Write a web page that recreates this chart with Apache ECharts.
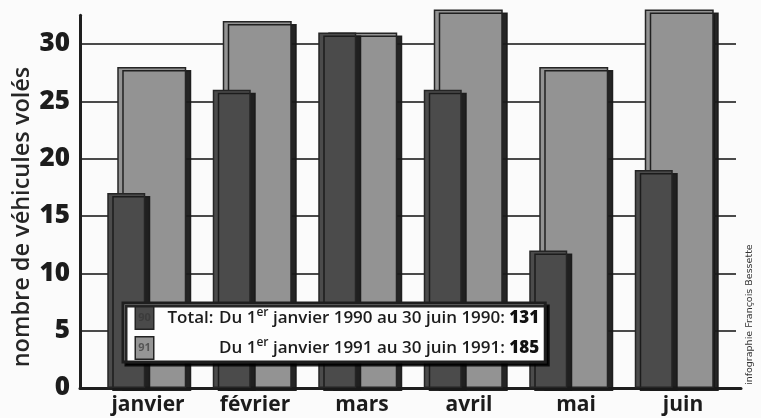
<!DOCTYPE html>
<html>
<head>
<meta charset="utf-8">
<script src="https://cdn.jsdelivr.net/npm/echarts@6/dist/echarts.min.js"></script>
<style>html,body{margin:0;padding:0;background:#fbfbfb;}#c{width:761px;height:418px;}</style>
</head>
<body>
<div id="c"></div>
<script>
var categories = ['janvier', 'février', 'mars', 'avril', 'mai', 'juin'];
var v1990 = [17, 26, 31, 26, 12, 19];
var v1991 = [28, 32, 31, 33, 28, 33];
var yTicks = [0, 5, 10, 15, 20, 25, 30];
var total1990 = 131;
var total1991 = 185;
var yName = 'nombre de véhicules volés';
var credit = 'infographie François Bessette';

var chart = echarts.init(document.getElementById('c'));
var FONT = '"Open Sans", "DejaVu Sans", sans-serif';
var YMAX = 32.5;
var TOP = 15.3, BOTTOM = 30;

var option = {
  backgroundColor: '#fbfbfb',
  animation: false,
  textStyle: { fontFamily: FONT },
  grid: [
    { left: 80, right: 25, top: TOP, bottom: BOTTOM, outerBoundsMode: 'none' },
    { left: 80, right: 20, top: 46, bottom: BOTTOM, outerBoundsMode: 'none' },
    { left: 94, right: 34, top: TOP, bottom: BOTTOM, outerBoundsMode: 'none' },
    { left: 94.5, right: 24.5, top: TOP, bottom: BOTTOM, outerBoundsMode: 'none' }
  ],
  xAxis: [
    { gridIndex: 0, type: 'value', min: 0, max: 1, show: false },
    { gridIndex: 1, type: 'value', min: 0, max: 1,
      axisLine: { show: true, lineStyle: { color: '#1e1e1e', width: 3 } },
      axisTick: { show: false }, axisLabel: { show: false }, splitLine: { show: false } },
    { gridIndex: 2, type: 'category', data: categories, show: false },
    { gridIndex: 3, type: 'category', data: categories,
      axisLine: { show: false }, axisTick: { show: false }, splitLine: { show: false },
      axisLabel: { margin: 7, color: '#1c1c1c', fontSize: 21, fontWeight: 700, fontFamily: FONT } }
  ],
  yAxis: [
    { gridIndex: 0, type: 'value', min: 0, max: YMAX, position: 'left',
      axisLine: { show: true, lineStyle: { color: '#1e1e1e', width: 3 } },
      axisTick: { show: false },
      axisLabel: { customValues: yTicks, margin: 10, color: '#1c1c1c', fontSize: 26, fontWeight: 800, fontFamily: FONT },
      splitLine: { show: true, showMaxLine: false, showMinLine: false, lineStyle: { color: '#4a4a4a', width: 2 } }
    },
    { gridIndex: 0, type: 'value', min: 0, max: YMAX, position: 'right', offset: -23,
      axisLine: { show: true, lineStyle: { color: '#1e1e1e', width: 3 } },
      axisTick: { show: true, customValues: yTicks.slice(1), length: 22, inside: false, lineStyle: { color: '#4a4a4a', width: 2 } },
      axisLabel: { show: false }, splitLine: { show: false }
    },
    { gridIndex: 1, type: 'value', min: 0, max: 1,
      axisLine: { show: false }, axisTick: { show: false }, axisLabel: { show: false }, splitLine: { show: false },
      name: yName, nameLocation: 'middle', nameGap: 46, nameRotate: 90,
      nameTextStyle: { fontSize: 23.5, fontWeight: 600, color: '#262626', fontFamily: FONT }
    },
    { gridIndex: 2, type: 'value', min: 0, max: YMAX, show: false },
    { gridIndex: 3, type: 'value', min: 0, max: YMAX, show: false }
  ],
  legend: {
    data: ['1990', '1991'],
    orient: 'vertical',
    left: 123, top: 303, z: 20,
    itemWidth: 0, itemHeight: 0, itemGap: 6,
    selectedMode: false,
    backgroundColor: '#fdfdfd',
    borderColor: '#1e1e1e', borderWidth: 3,
    shadowColor: 'rgba(0,0,0,0.85)', shadowOffsetX: 3, shadowOffsetY: 3, shadowBlur: 0,
    padding: [3, 6, 2, 7],
    formatter: function (name) {
      if (name === '1990') {
        return '{b90|90}{t|Total:}{n|Du 1}{sup|er}{n| janvier 1990 au 30 juin 1990: }{bd|' + total1990 + '}';
      }
      return '{b91|91}{t| }{n|Du 1}{sup|er}{n| janvier 1991 au 30 juin 1991: }{bd|' + total1991 + '}';
    },
    textStyle: {
      fontFamily: FONT, color: '#1c1c1c', fontSize: 17, fontWeight: 600,
      rich: {
        b90: { backgroundColor: '#4a4a4a', borderColor: '#222', borderWidth: 1.5, width: 17, height: 21, align: 'center', color: '#3c3c3c', fontSize: 11, fontWeight: 700, fontFamily: FONT },
        b91: { backgroundColor: '#959595', borderColor: '#222', borderWidth: 1.5, width: 17, height: 21, align: 'center', color: '#555', fontSize: 11, fontWeight: 700, fontFamily: FONT },
        t: { width: 57, padding: [0, 0, 0, 9], fontSize: 17, fontWeight: 600, color: '#1c1c1c', fontFamily: FONT },
        n: { fontSize: 17, fontWeight: 600, color: '#1c1c1c', fontFamily: FONT },
        sup: { fontSize: 12, fontWeight: 600, color: '#1c1c1c', padding: [0, 0, 10, 0], fontFamily: FONT },
        bd: { fontSize: 17, fontWeight: 800, color: '#111', fontFamily: FONT }
      }
    }
  },
  graphic: [{
    type: 'text', x: 750, y: 385, rotation: Math.PI / 2, z: 20,
    style: { text: credit, font: '9.5px "DejaVu Sans", sans-serif', fill: '#333', textAlign: 'left', textVerticalAlign: 'middle' }
  }],
  series: [
    { name: '1990', type: 'bar', xAxisIndex: 2, yAxisIndex: 3, data: v1990,
      barWidth: 38, barGap: '-73.7%', z: 3, clip: false,
      itemStyle: { color: '#4b4b4b', borderColor: '#252525', borderWidth: 1.5,
        shadowColor: 'rgba(25,25,25,0.95)', shadowOffsetX: 5, shadowOffsetY: 3, shadowBlur: 0 } },
    { name: '1991', type: 'bar', xAxisIndex: 2, yAxisIndex: 3, data: v1991,
      barWidth: 69, barGap: '-73.7%', z: 2, clip: false,
      itemStyle: { color: '#939393', borderColor: '#252525', borderWidth: 1.5,
        shadowColor: 'rgba(25,25,25,0.95)', shadowOffsetX: 5, shadowOffsetY: 3, shadowBlur: 0 } }
  ]
};
chart.setOption(option);
</script>
</body>
</html>
